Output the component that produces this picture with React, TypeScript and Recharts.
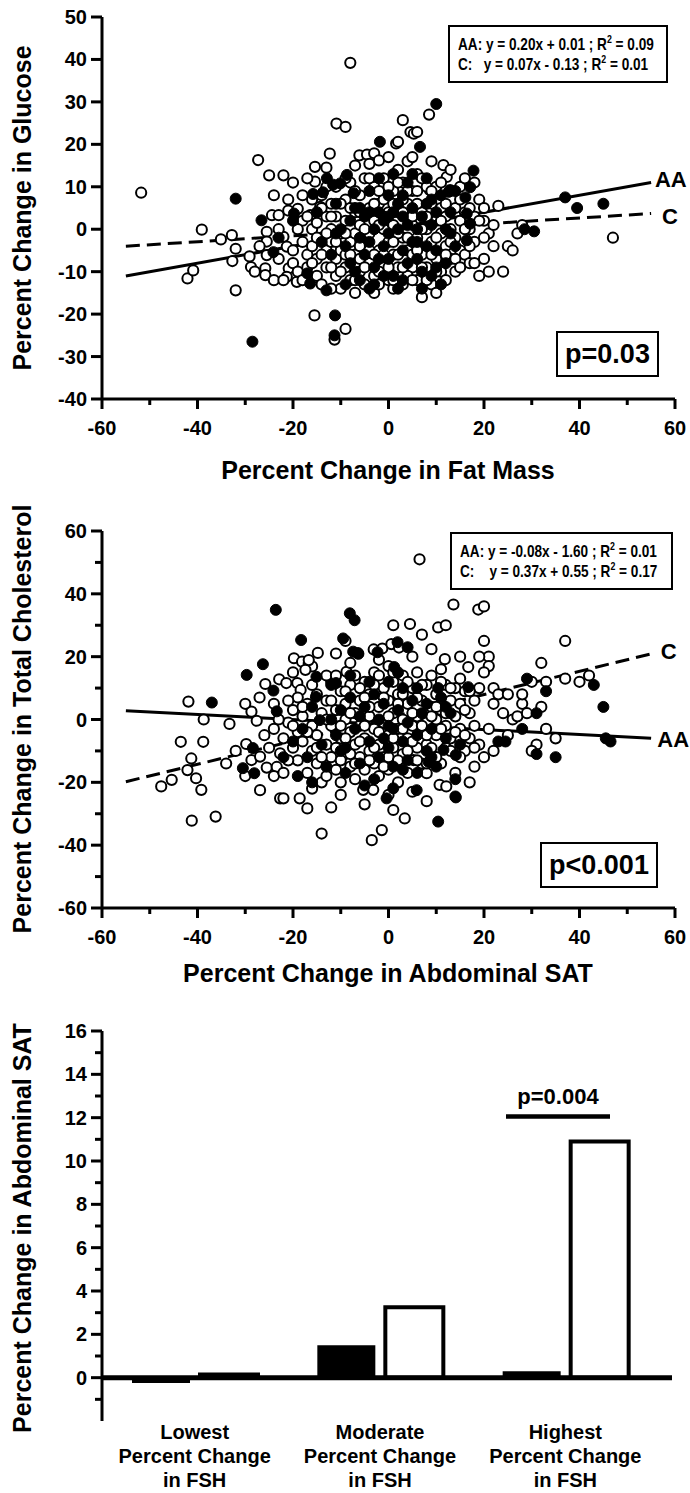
import React from 'react';
import {
  ScatterChart,
  Scatter,
  XAxis,
  YAxis,
  ReferenceDot,
  BarChart,
  Bar,
  ReferenceLine,
} from 'recharts';

// ---------------- DATA ----------------
// Panel 1: % change in fat mass (x) vs % change in glucose (y)
const glucoseWhite: number[][] = [
  [-51.8, 8.6], [-42.1, -11.6], [-40.9, -9.7], [-39.1, -0.1], [-35.1, -2.4], [-32.8, -1.4], [-32, -4.6], [-32.7, -7.5],
  [-32, -14.4], [-28.8, -8.9], [-29.1, -6.4], [-27.3, 16.3], [-25, 12.7], [-22, 12.7], [-25.5, -0.6], [-25.5, -2.9],
  [-25.5, -6.1], [-25.8, -9.2], [-25.8, -10.8], [-24.4, 3.3], [-23, 3.3], [-21, 4.4], [-19, 4.8], [-22, -1.8],
  [-21.3, -4.1], [-20.9, -9.2], [-19.2, -12.4], [-21.3, -11.2], [-16.4, 3.3], [-14.3, 5.3], [-15.4, 14.7], [-15.4, 11.2],
  [-12.3, 17.8], [-10.9, 24.9], [-9, 24.1], [-15.5, -20.3], [-8, 39.2], [-9, -23.5], [-11.3, -26], [-6.1, 17.4],
  [-4.5, 17.6], [-3, 17.9], [-4, 15.4], [-2, 16.2], [1.6, 20.2], [2, 20.6], [3, 25.7], [4.6, 22.9], [5.3, 22.5],
  [6, 22.9], [8.5, 27], [11.5, 15.1], [12.2, 12.3], [8.7, 9.2], [12.9, 9.2],
  [-18, 2], [-18, -3], [-17, -6], [-17, -9], [-16, 0], [-16, -4], [-15, 1.5], [-15, -7], [-15, -11], [-14, -2],
  [-14, -13], [-13, 3], [-13, -5], [-13, -9], [-12, 0], [-12, 6], [-12, -3], [-11, -7], [-11, -11], [-11, 3],
  [-10, -1], [-10, -5], [-10, -14], [-9, 7], [-9, 2], [-9, -9], [-8, -3], [-8, -12], [-8, 11], [-7, 4], [-7, -6],
  [-7, -1], [-6, 8], [-6, -10], [-6, 1], [-5, 12], [-5, -4], [-5, -13], [-4, 5], [-4, -1], [-4, -8], [-3, 10],
  [-3, 2], [-3, -11], [-2, -5], [-2, 6], [-1, 12], [-1, 0], [-1, -9], [0, 4], [0, -3], [0, -12], [1, 9], [1, -6],
  [1, 1], [2, 14], [2, -9], [2, 4], [3, -2], [3, 11], [3, -13], [4, 6], [4, -5], [4, 16], [5, 1], [5, -9], [5, 9],
  [6, -2], [6, 13], [6, -12], [7, 4], [7, -6], [7, -16], [8, 0], [8, 10], [8, -9], [9, 6], [9, -3], [9, -13],
  [10, 2], [10, -7], [10, 10], [11, -1], [11, 5], [11, -10], [12, -4], [12, 3], [13, 0], [13, -7], [14, 5],
  [14, -2], [14, -10], [15, 2], [15, 10], [15, -5], [16, -6], [16, 4], [17, 0], [17, -8], [18, 3], [18, -3],
  [19, -11], [19, 7], [20, -7], [20, 2], [21, -1], [22, -4], [23, 5.5], [24, -10], [25, -4], [26, -5], [27, -1],
  [28, 1], [47, -2], [1, -14], [-20, -8], [-19, 0], [-20, -5], [-23, -7], [-27, -4], [-28, -10], [-24, -12],
  [-17, 12], [-13, 14.5], [-7, 15], [0, 17], [5, 17], [9, 16], [13, 14], [10, -15], [12, -12], [-3, -15],
  [-7, -15], [-12, -14], [-14, 8], [-16, 7], [-18, 8], [-20, 11], [6, 6], [3, 7], [-1, 7], [-6, -7], [-9, -6],
  [-2, -13], [16, 12], [18, 11], [20, -2], [22, 1], [21, -10], [2, -1], [-11, 10], [-13, -1], [4, -11], [7, 12],
  [-19, -10], [-18, -12], [-17, 3], [-16, -8], [-15, -2], [-14, 5], [-14, -6], [-13, 10], [-12, -9], [-12, 3],
  [-11, -3], [-10, 6], [-10, -10], [-9, -1], [-9, 12], [-8, 5], [-8, -6], [-7, 9], [-7, -12], [-6, -4], [-6, 4],
  [-5, 0], [-5, -9], [-4, 12], [-4, -5], [-3, 6], [-3, -6], [-2, 1], [-2, 9], [-2, -10], [-1, -6], [-1, 3],
  [0, 10], [0, -9], [1, 6], [1, -3], [1, -12], [2, 11], [2, -6], [3, 4], [3, -9], [4, -2], [4, 9], [5, -6], [5, 3],
  [5, -12], [6, 9], [6, -5], [7, 0], [7, -9], [8, 3], [8, -12], [9, 9], [9, -6], [10, -2], [10, -10], [11, 2],
  [11, 11], [12, 6], [12, -6], [13, -3], [13, 9], [14, -7], [15, 7], [15, -9], [16, 0], [17, 5], [17, -4], [18, -8],
  [19, 2], [20, 5], [-21, 7], [-22, -12], [-23, 0], [-24, 8],
];
const glucoseBlack: number[][] = [
  [-32, 7.2], [-26.6, 2.1], [-19.8, 3.7], [-24.1, -5.4], [-28.5, -26.5], [-11.2, -20.3], [-11.3, -25], [-17, -10.4],
  [-16.4, -12.8], [-13, -14.4], [-12.9, 12], [-11.6, 10.5], [-10.1, 10.8], [-8.7, 12.8], [-7.3, 8.5], [-15.8, 8.3],
  [-13.7, 8.7], [-1.8, 20.6], [6.6, 19.4], [10, 29.5], [12.6, 8.8], [16.1, 7.5], [17.8, 13.8], [17.1, 9.9],
  [16.4, 3.7], [17.1, 1.3], [16.4, -2.6], [37, 7.5], [39.5, 5], [45, 6], [28.5, 0], [30.5, -0.5], [-23, -2], [-20, 2],
  [-10, 0], [-9, -4], [-8, 2], [-8, -8], [-7, 5], [-6, -2], [-6, -12], [-5, 3], [-5, -6], [-4, 9], [-4, -3], [-3, 0],
  [-3, -9], [-3, -13], [-2, 4], [-2, -7], [-1, 2], [-1, -4], [0, 8], [0, -1], [0, -7], [1, 4], [1, -11], [2, 0],
  [2, -14], [2, 6], [3, -5], [3, 3], [4, -8], [4, 1], [4, 11], [5, -3], [5, 5], [6, 0], [6, -7], [7, -10], [7, 3],
  [8, -4], [8, 6], [9, 1], [9, -11], [10, 4], [10, -5], [11, 8], [12, 0], [12, -8], [13, 4], [14, -4], [14, 9],
  [-12, -6], [-14, -3], [-15, 4], [-11, 6], [-9, -13], [-7, -10], [-2, 12], [1, 13], [5, 13], [8, 12], [3, -12],
  [11, -13], [7, -14], [-4, -14], [-11, -1], [-6, 5], [-1, -11], [3, 8], [6, -3], [10, -9], [13, -1], [-4, 4], [0, 3],
  [9, 7],
];
const glucoseFitAA = [{ x: -55, y: -11 }, { x: 55, y: 11 }];
const glucoseFitC = [{ x: -55, y: -4 }, { x: 55, y: 3.7 }];

// Panel 2: % change in abdominal SAT (x) vs % change in total cholesterol (y)
const cholWhite: number[][] = [
  [-41.9, 5.7], [-38.7, 0], [-33.3, -1.4], [-43.5, -7.1], [-38.8, -7.1], [-41.3, -12.4], [-42.1, -16.1], [-40.3, -18.7],
  [-39.2, -22.4], [-47.6, -21.3], [-45.4, -19.2], [-41.2, -32.2], [-36.2, -30.9], [-28.7, 2.5], [-27.6, -0.4],
  [-29.8, -7.8], [-28.7, -12.9], [-26.9, -11.8], [-26.9, -22.5], [-25.5, -15.3], [-23.4, -15.1], [-22.7, -10.8],
  [-22.7, -25.1], [-25.8, 11.3], [-22.9, 12.8], [-21.4, 11.6], [-19.1, 11.6], [-18.4, 9.4], [-19.8, 19.5],
  [-18.1, 18.4], [-16.7, 17.9], [-16, 16.9], [-14.8, 21.2], [-17.4, 15.8], [-16.7, 18.9], [-8.8, 15.2], [-6.4, 21.1],
  [-3.1, 22.3], [-1.3, 22.6], [0.6, 24], [2.2, 22.9], [4.5, 30.4], [10.4, 29.3], [9, 22.4], [11.8, 19.2], [13.6, 36.6],
  [18.8, 35], [16.7, 16.7], [15, 13], [-3.5, -38.4], [-1.4, -35.2], [-14, -36.3], [-18.6, -25.1], [-17, -28.3],
  [-22, -25.1], [3.4, -31.5], [1, -28.8], [-3.2, -22.4], [-5.3, -22.4], [10.7, -20.8], [12.1, -21.3], [5.2, -12.9],
  [8, -17.1], [20, 36], [20, 25], [21, 20], [19, 20], [21, 17], [22, 10], [23, 8], [22, 5], [25, 8], [24, 2], [26, 0],
  [27, 1], [28, 5], [28, 8], [30, 12], [32, 18], [33, 12], [31, -8], [33, -3], [37, 25], [37, 13], [40, 12], [42, 14],
  [32, 4], [25, -5], [22, -10], [20, -12], [21, -3], [30, -10], [12, 30], [6.5, 51], [20, 15], [29, 2], [35, -6],
  [-24, -3], [-22, -6], [-21, -1], [-20, -9], [-20, 3], [-19, -4], [-19, -13], [-18, 1], [-18, -7], [-17, -17],
  [-17, 5], [-16, -2], [-16, -10], [-15, 8], [-15, -5], [-15, -14], [-14, 2], [-14, -20], [-13, -8], [-13, 6],
  [-12, -2], [-12, -12], [-12, 12], [-11, -16], [-11, 3], [-10, -6], [-10, 9], [-10, -20], [-9, 0], [-9, -11],
  [-9, 5], [-8, -4], [-8, -15], [-8, 11], [-7, -8], [-7, 2], [-7, -19], [-6, 6], [-6, -2], [-6, -12], [-5, 12],
  [-5, -6], [-5, -16], [-4, 1], [-4, -10], [-4, 8], [-3, -3], [-3, -14], [-3, 15], [-2, 4], [-2, -8], [-2, -18],
  [-1, 10], [-1, -1], [-1, -12], [0, 6], [0, -5], [0, -16], [0, 17], [1, 2], [1, -9], [1, 12], [2, -3], [2, -20],
  [2, 8], [3, 14], [3, 0], [3, -11], [4, 5], [4, -6], [4, -17], [5, 10], [5, -2], [6, 1], [6, -9], [6, 15], [7, 6],
  [7, -4], [7, -14], [8, -1], [8, 11], [8, -8], [9, 4], [9, -11], [9, 14], [10, 0], [10, 8], [10, -5], [11, -14],
  [11, 3], [12, 11], [12, -2], [12, -9], [13, 6], [13, -6], [14, 1], [14, -17], [14, 10], [15, -3], [15, 5],
  [16, -10], [16, 9], [17, 2], [17, -6], [18, 6], [18, -2], [-26, -5], [-23, 0], [-21, -13], [-24, -18], [-19, 7],
  [-13, 14], [-8, 18], [-11, 21], [-2, 19], [5, 20], [11, 16], [15, 20], [-16, -22], [-10, -24], [-5, -27], [5, -23],
  [8, -26], [0, -24], [18, -15], [17, -20], [-32, -10], [-34, -14], [-30, -18], [-12, -28], [19, 10], [19, -8],
  [-9, 25], [1, 30], [7, 27], [-20, 15], [-27, 7], [-30, 5],
  [-18, 4], [-17, -4], [-16, 11], [-15, -9], [-14, -12], [-13, 0], [-13, -18], [-12, 6], [-11, -9], [-11, 14],
  [-10, -2], [-10, -13], [-9, 9], [-9, -6], [-8, -11], [-8, 2], [-7, 14], [-7, -14], [-6, 10], [-6, -7], [-5, -2],
  [-5, 7], [-4, -13], [-4, 4], [-3, -9], [-3, 11], [-2, -4], [-2, 14], [-1, -15], [-1, 7], [0, 1], [0, -12], [1, -6],
  [1, 15], [2, -13], [2, 5], [3, -3], [3, 8], [4, -10], [4, 12], [5, -7], [5, 2], [6, -13], [6, 7], [7, -2], [7, 11],
  [8, -5], [8, -14], [9, 1], [9, -9], [10, 4], [10, -12], [11, -3], [11, 12], [12, 2], [13, -10], [13, 10], [14, -4],
  [15, -12], [16, 3], [16, -5], [17, 9], [18, -9], [-20, -2], [-21, 6], [-22, -17], [-24, 5], [-25, -9],
];
const cholBlack: number[][] = [
  [-37, 5.4], [-30.5, -15.5], [-28.1, -17.1], [-28.4, -9.1], [-29.7, 14.2], [-26.3, 17.6], [-24.1, 9.2], [-23.4, 2.6],
  [-23.6, 34.9], [-18.3, 25.3], [-15.1, 13.6], [-12, 11], [-11, 11.6], [-15.2, 7.2], [-14.4, -0.2], [-9.5, 25.8],
  [-8.1, 33.8], [-7.1, 31.6], [-7.4, 21.6], [-6.3, 20.9], [-2.3, 21.4], [1.2, 16.7], [1.9, 24.6], [4, 23], [16.7, 10.3],
  [10.4, 10], [10.4, -32.5], [14.1, -24.8], [14.1, -11.3], [11.5, -9.7], [8.4, -13.5], [5.9, -22.5], [1, -21.9],
  [-0.4, -25.1], [28, -3], [23, -7], [24.5, -7], [29, 13], [31, -11], [33, 9], [35, -12], [43, 11], [45, 4],
  [45.5, -6], [46.5, -7], [31, 2], [14, -24.5], [-20, -7], [-18, -3], [-17, -12], [-16, 4], [-14, -8], [-13, -15],
  [-12, 0], [-11, -5], [-10, 3], [-9, -9], [-9, -17], [-8, 7], [-7, -3], [-6, -14], [-5, 4], [-4, -7], [-3, -19],
  [-3, 8], [-2, 0], [-2, -12], [-1, 5], [0, -9], [0, 12], [1, -3], [1, -15], [2, 3], [3, -7], [3, 10], [4, -1],
  [4, -13], [5, 6], [6, -5], [6, -17], [7, 2], [8, -10], [8, 5], [9, -3], [10, -15], [11, 7], [12, -6], [13, 2],
  [14, -19], [-19, -18], [-16, -20], [-22, -12], [-8, 14], [2, 15], [-5, -21], [-10, -10], [-6, 1], [-1, -6],
  [3, -16], [6, 10], [9, -12], [12, 4], [-4, 12], [0, -2], [15, -8],
];
const cholFitAA = [{ x: -55, y: 2.8 }, { x: 55, y: -6 }];
const cholFitC = [{ x: -55, y: -19.8 }, { x: 55, y: 20.9 }];

// Panel 3: % change in abdominal SAT by FSH change group
const fshGroups = ['Lowest\nPercent Change\nin FSH', 'Moderate\nPercent Change\nin FSH', 'Highest\nPercent Change\nin FSH'];
const satAA = [-0.25, 1.5, 0.3];
const satC = [0.15, 3.25, 10.9];
const pBracketValue = 12.05;

// tick values
const scatterXTicks = [-60, -50, -40, -30, -20, -10, 0, 10, 20, 30, 40, 50, 60];
const scatterXLabels = [-60, -40, -20, 0, 20, 40, 60];
const glucoseYTicks = [-40, -30, -20, -10, 0, 10, 20, 30, 40, 50];
const cholYTicks = [-60, -50, -40, -30, -20, -10, 0, 10, 20, 30, 40, 50, 60];
const cholYLabels = [-60, -40, -20, 0, 20, 40, 60];
const satYTicks = [-1, 0, 1, 2, 3, 4, 5, 6, 7, 8, 9, 10, 11, 12, 13, 14, 15, 16];
const satYLabels = [0, 2, 4, 6, 8, 10, 12, 14, 16];

// ---------------- STYLE ----------------
const FONT = "'Liberation Sans', Arial, Helvetica, sans-serif";
const AXIS = { stroke: '#000', strokeWidth: 3 };

const toPts = (arr: number[][]) => arr.map(([x, y]) => ({ x, y }));

const makeXTick = (labels: number[]) => (props: any) => {
  const { x, y, payload } = props;
  const major = labels.includes(payload.value);
  return (
    <g>
      <line x1={x} x2={x} y1={y} y2={y + (major ? 10 : 6)} stroke="#000" strokeWidth={3} />
      {major && (
        <text x={x} y={y + 36} textAnchor="middle" fontFamily={FONT} fontWeight="bold" fontSize={20} fill="#000">
          {payload.value}
        </text>
      )}
    </g>
  );
};

const makeYTick = (labels: number[]) => (props: any) => {
  const { x, y, payload } = props;
  const major = labels.includes(payload.value);
  return (
    <g>
      <line x1={x - (major ? 11 : 7)} x2={x} y1={y} y2={y} stroke="#000" strokeWidth={3} />
      {major && (
        <text x={x - 15} y={y + 7} textAnchor="end" fontFamily={FONT} fontWeight="bold" fontSize={20} fill="#000">
          {payload.value}
        </text>
      )}
    </g>
  );
};

const WhiteDot = (p: any) => <circle cx={p.cx} cy={p.cy} r={5.1} fill="#fff" stroke="#000" strokeWidth={2} />;
const BlackDot = (p: any) => <circle cx={p.cx} cy={p.cy} r={5.5} fill="#000" stroke="#000" strokeWidth={1} />;
const NoShape = () => <g />;

const lineLabel = (text: string) => (p: any) => (
  <text x={p.cx} y={p.cy} dominantBaseline="central" fontFamily={FONT} fontWeight="bold" fontSize={22} fill="#000">
    {text}
  </text>
);

const CatTick = (props: any) => {
  const { x, y, payload } = props;
  const lines = String(payload.value).split('\n');
  return (
    <text x={x} y={y} textAnchor="middle" fontFamily={FONT} fontWeight="bold" fontSize={20} fill="#000">
      {lines.map((l, i) => (
        <tspan key={i} x={x} dy={i === 0 ? 18 : 24}>
          {l}
        </tspan>
      ))}
    </text>
  );
};

const Title = ({ text, cx, cy, rotate }: { text: string; cx: number; cy: number; rotate?: boolean }) => (
  <div
    style={{
      position: 'absolute',
      left: cx - 300,
      top: cy - 15,
      width: 600,
      height: 30,
      lineHeight: '30px',
      textAlign: 'center',
      fontFamily: FONT,
      fontWeight: 'bold',
      fontSize: 25,
      color: '#000',
      whiteSpace: 'nowrap',
      transform: rotate ? 'rotate(-90deg)' : undefined,
    }}
  >
    {text}
  </div>
);

const Sup = ({ children }: { children: React.ReactNode }) => (
  <span style={{ fontSize: 11, position: 'relative', top: -7 }}>{children}</span>
);

const EqLine = ({ children }: { children: React.ReactNode }) => (
  <div style={{ height: 20, lineHeight: '20px' }}>
    <span style={{ display: 'inline-block', transform: 'scaleX(0.8)', transformOrigin: '0 50%', whiteSpace: 'pre' }}>
      {children}
    </span>
  </div>
);

const EqBox = ({ left, top, width, l1, l2 }: { left: number; top: number; width: number; l1: React.ReactNode; l2: React.ReactNode }) => (
  <div
    style={{
      position: 'absolute',
      left,
      top,
      width,
      height: 58,
      boxSizing: 'border-box',
      border: '2px solid #000',
      padding: '8px 0 0 8px',
      fontFamily: FONT,
      fontWeight: 'bold',
      fontSize: 17,
      color: '#000',
      background: '#fff',
      overflow: 'hidden',
    }}
  >
    <EqLine>{l1}</EqLine>
    <EqLine>{l2}</EqLine>
  </div>
);

const PBox = ({ left, top, width, text }: { left: number; top: number; width: number; text: string }) => (
  <div
    style={{
      position: 'absolute',
      left,
      top,
      width,
      height: 46,
      boxSizing: 'border-box',
      border: '2px solid #000',
      fontFamily: FONT,
      fontWeight: 'bold',
      fontSize: 27,
      lineHeight: '42px',
      textAlign: 'center',
      color: '#000',
      background: '#fff',
    }}
  >
    {text}
  </div>
);

export default function App() {
  const barData = fshGroups.map((g, i) => ({ group: g, aa: satAA[i], c: satC[i] }));
  return (
    <div style={{ position: 'absolute', left: 0, top: 0, width: 690, height: 1493, background: '#fff', overflow: 'hidden' }}>
      {/* Panel 1 */}
      <div style={{ position: 'absolute', left: 0, top: 0 }}>
        <ScatterChart width={690} height={500} margin={{ top: 17, right: 15, bottom: 0, left: 0 }}>
          <XAxis type="number" dataKey="x" domain={[-60, 60]} ticks={scatterXTicks} interval={0} height={101}
            axisLine={AXIS} tickLine={false} tickSize={0} tickMargin={0} tick={makeXTick(scatterXLabels)} allowDataOverflow />
          <YAxis type="number" dataKey="y" domain={[-40, 50]} ticks={glucoseYTicks} interval={0} width={102}
            axisLine={AXIS} tickLine={false} tickSize={0} tickMargin={0} tick={makeYTick(glucoseYTicks)} allowDataOverflow />
          <Scatter data={glucoseFitC} line={{ stroke: '#000', strokeWidth: 3, strokeDasharray: '14 7' }} shape={NoShape} isAnimationActive={false} />
          <Scatter data={glucoseFitAA} line={{ stroke: '#000', strokeWidth: 3 }} shape={NoShape} isAnimationActive={false} />
          <Scatter data={toPts(glucoseWhite)} shape={WhiteDot} isAnimationActive={false} />
          <Scatter data={toPts(glucoseBlack)} shape={BlackDot} isAnimationActive={false} />
          <ReferenceDot x={55.8} y={11.8} shape={lineLabel('AA')} />
          <ReferenceDot x={57.3} y={3} shape={lineLabel('C')} />
        </ScatterChart>
      </div>
      <EqBox left={448} top={25} width={220}
        l1={<>AA: y = 0.20x + 0.01 ; R<Sup>2</Sup> = 0.09</>}
        l2={<>C:   y = 0.07x - 0.13 ; R<Sup>2</Sup> = 0.01</>} />
      <PBox left={556} top={331} width={103} text="p=0.03" />
      <Title text="Percent Change in Fat Mass" cx={388} cy={470} />
      <Title text="Percent Change in Glucose" cx={22} cy={208} rotate />

      {/* Panel 2 */}
      <div style={{ position: 'absolute', left: 0, top: 500 }}>
        <ScatterChart width={690} height={500} margin={{ top: 31, right: 15, bottom: 0, left: 0 }}>
          <XAxis type="number" dataKey="x" domain={[-60, 60]} ticks={scatterXTicks} interval={0} height={92}
            axisLine={AXIS} tickLine={false} tickSize={0} tickMargin={0} tick={makeXTick(scatterXLabels)} allowDataOverflow />
          <YAxis type="number" dataKey="y" domain={[-60, 60]} ticks={cholYTicks} interval={0} width={102}
            axisLine={AXIS} tickLine={false} tickSize={0} tickMargin={0} tick={makeYTick(cholYLabels)} allowDataOverflow />
          <Scatter data={cholFitC} line={{ stroke: '#000', strokeWidth: 3, strokeDasharray: '14 7' }} shape={NoShape} isAnimationActive={false} />
          <Scatter data={cholFitAA} line={{ stroke: '#000', strokeWidth: 3 }} shape={NoShape} isAnimationActive={false} />
          <Scatter data={toPts(cholWhite)} shape={WhiteDot} isAnimationActive={false} />
          <Scatter data={toPts(cholBlack)} shape={BlackDot} isAnimationActive={false} />
          <ReferenceDot x={57} y={21.5} shape={lineLabel('C')} />
          <ReferenceDot x={56.3} y={-6.5} shape={lineLabel('AA')} />
        </ScatterChart>
      </div>
      <EqBox left={450} top={532} width={223}
        l1={<>AA: y = -0.08x - 1.60 ; R<Sup>2</Sup> = 0.01</>}
        l2={<>C:    y = 0.37x + 0.55 ; R<Sup>2</Sup> = 0.17</>} />
      <PBox left={540} top={842} width={118} text="p<0.001" />
      <Title text="Percent Change in Abdominal SAT" cx={388} cy={973} />
      <Title text="Percent Change in Total Cholesterol" cx={22} cy={719} rotate />

      {/* Panel 3 */}
      <div style={{ position: 'absolute', left: 0, top: 1000 }}>
        <BarChart width={690} height={493} data={barData} margin={{ top: 31, right: 18, bottom: 0, left: 0 }}
          barCategoryGap={30} barGap={10}>
          <XAxis dataKey="group" padding={{ left: 0, right: 14 }} height={72} interval={0}
            axisLine={false} tickLine={false} tickSize={0} tickMargin={0} tick={CatTick} />
          <YAxis type="number" domain={[-2, 16]} ticks={satYTicks} interval={0} width={102}
            axisLine={AXIS} tickLine={false} tickSize={0} tickMargin={0} tick={makeYTick(satYLabels)} allowDataOverflow />
          <Bar dataKey="aa" fill="#000" isAnimationActive={false} />
          <Bar dataKey="c" fill="#fff" stroke="#000" strokeWidth={4} isAnimationActive={false} />
          <ReferenceLine y={0} stroke="#000" strokeWidth={5} />
          <ReferenceLine
            y={pBracketValue}
            shape={(p: any) => (
              <g>
                <line x1={506} x2={610} y1={p.y1} y2={p.y1} stroke="#000" strokeWidth={4.5} />
                <text x={558} y={p.y1 - 13} textAnchor="middle" fontFamily={FONT} fontWeight="bold" fontSize={22} fill="#000">
                  p=0.004
                </text>
              </g>
            )}
          />
        </BarChart>
      </div>
      <Title text="Percent Change in Abdominal SAT" cx={22} cy={1228} rotate />
    </div>
  );
}
